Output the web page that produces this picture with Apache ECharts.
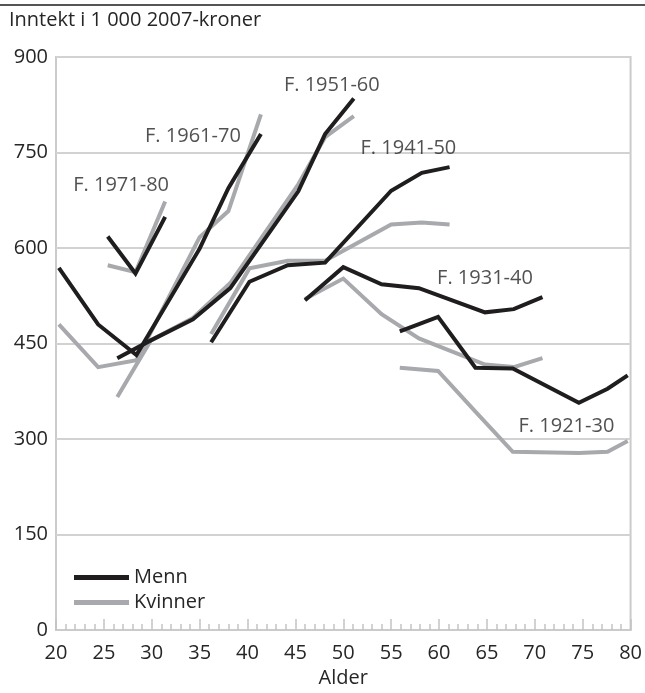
<!DOCTYPE html>
<html>
<head>
<meta charset="utf-8">
<script src="https://cdn.jsdelivr.net/npm/echarts@6/dist/echarts.min.js"></script>
<style>
html, body { margin: 0; padding: 0; background: #fff; }
#main { width: 645px; height: 693px; }
</style>
</head>
<body>
<div id="main"></div>
<script>
// alder for hvert måletidspunkt, per kohort
var ages1921 = [55.9, 59.9, 63.8, 67.7, 74.6, 77.6, 79.7];
var menn1921 = [469, 492, 412, 411, 357, 379, 400];
var kvinner1921 = [412, 407, 343, 280, 278, 280, 297];

var ages1931 = [46.0, 50.0, 54.0, 57.9, 64.8, 67.8, 70.8];
var menn1931 = [518, 570, 543, 537, 499, 504, 523];
var kvinner1931 = [520, 552, 496, 458, 417, 413, 427];

var ages1941 = [36.2, 40.2, 44.2, 48.1, 55.0, 58.2, 61.1];
var menn1941 = [452, 547, 573, 577, 690, 718, 727];
var kvinner1941 = [465, 568, 580, 580, 637, 640, 637];

var ages1951 = [26.4, 29.9, 34.3, 38.2, 45.3, 48.1, 51.1];
var menn1951 = [427, 455, 488, 537, 689, 779, 835];
var kvinner1951 = [366, 455, 490, 545, 700, 774, 807];

var ages1961 = [20.3, 24.4, 28.4, 35.0, 38.0, 41.4];
var menn1961 = [569, 480, 432, 599, 694, 779];
var kvinner1961 = [480, 413, 424, 617, 658, 810];

var ages1971 = [25.4, 28.3, 31.4];
var menn1971 = [618, 560, 649];
var kvinner1971 = [573, 562, 673];

// kohort-etiketter: [alder, inntekt] for midten av teksten
var cohortLabels = ['F. 1971-80', 'F. 1961-70', 'F. 1951-60', 'F. 1941-50', 'F. 1931-40', 'F. 1921-30'];
var labelAges = [26.8, 34.3, 48.8, 56.8, 64.8, 73.3];
var labelValues = [699, 776, 856, 756, 552, 320];

var yTicks = [0, 150, 300, 450, 600, 750, 900];

var FONT = '"Open Sans", sans-serif';
var FS = 20;
var TXT = '#262626';
var BLACK = '#1f1d1e';
var GREY = '#a8a9ad';

function pairs(ages, vals) {
    return ages.map(function (a, i) { return [a, vals[i]]; });
}

function lineSeries(name, color, ages, vals) {
    return {
        name: name,
        type: 'line',
        data: pairs(ages, vals),
        symbol: 'none',
        silent: true,
        lineStyle: { color: color, width: 4, join: 'miter' },
        itemStyle: { color: color }
    };
}

var series = [
    lineSeries('Kvinner', GREY, ages1921, kvinner1921),
    lineSeries('Kvinner', GREY, ages1931, kvinner1931),
    lineSeries('Kvinner', GREY, ages1941, kvinner1941),
    lineSeries('Kvinner', GREY, ages1951, kvinner1951),
    lineSeries('Kvinner', GREY, ages1961, kvinner1961),
    lineSeries('Kvinner', GREY, ages1971, kvinner1971),
    lineSeries('Menn', BLACK, ages1921, menn1921),
    lineSeries('Menn', BLACK, ages1931, menn1931),
    lineSeries('Menn', BLACK, ages1941, menn1941),
    lineSeries('Menn', BLACK, ages1951, menn1951),
    lineSeries('Menn', BLACK, ages1961, menn1961),
    lineSeries('Menn', BLACK, ages1971, menn1971)
];

// etikettene som en usynlig punktserie
series.push({
    name: 'etiketter',
    type: 'scatter',
    symbolSize: 0,
    silent: true,
    data: cohortLabels.map(function (t, i) {
        return { name: t, value: [labelAges[i], labelValues[i]] };
    }),
    label: {
        show: true,
        position: 'inside',
        formatter: '{b}',
        color: TXT,
        fontFamily: FONT,
        fontSize: FS
    }
});

var myChart = echarts.init(document.getElementById('main'), null, { renderer: 'canvas' });
myChart.setOption({
    animation: false,
    title: {
        text: 'Inntekt i 1 000 2007-kroner',
        left: 9,
        top: 10,
        padding: 0,
        textStyle: { fontFamily: FONT, fontSize: FS, fontWeight: 'normal', color: TXT }
    },
    graphic: [{
        type: 'line',
        shape: { x1: 0, y1: 5, x2: 645, y2: 5 },
        style: { stroke: '#555', lineWidth: 2 }
    }],
    legend: {
        data: ['Menn', 'Kvinner'],
        orient: 'vertical',
        left: 74,
        top: 567,
        padding: 0,
        icon: 'rect',
        itemWidth: 55,
        itemHeight: 5,
        itemGap: 4,
        selectedMode: false,
        textStyle: { fontFamily: FONT, fontSize: FS, lineHeight: 21, color: TXT }
    },
    grid: {
        left: 56,
        right: 9,
        top: 57,
        bottom: 53,
        show: true,
        borderColor: '#cbcbcb',
        borderWidth: 2
    },
    xAxis: {
        type: 'value',
        min: 20,
        max: 80,
        interval: 5,
        name: 'Alder',
        nameLocation: 'middle',
        nameGap: 33,
        nameTextStyle: { fontFamily: FONT, fontSize: FS, color: TXT },
        axisLine: { show: true, lineStyle: { color: '#cbcbcb', width: 2 } },
        axisTick: { show: true, inside: true, length: 11, lineStyle: { color: '#c4c4c4', width: 1.5 } },
        minorTick: { show: true, splitNumber: 5, length: 6, lineStyle: { color: '#c4c4c4', width: 1.5 } },
        splitLine: { show: false },
        axisLabel: { margin: 13, fontFamily: FONT, fontSize: FS, color: TXT }
    },
    yAxis: {
        type: 'value',
        min: yTicks[0],
        max: yTicks[yTicks.length - 1],
        interval: 150,
        axisLine: { show: false },
        axisTick: { show: false },
        splitLine: { show: true, lineStyle: { color: '#d2d2d2', width: 2 } },
        axisLabel: { margin: 8, fontFamily: FONT, fontSize: FS, color: TXT }
    },
    series: series
});
</script>
</body>
</html>
